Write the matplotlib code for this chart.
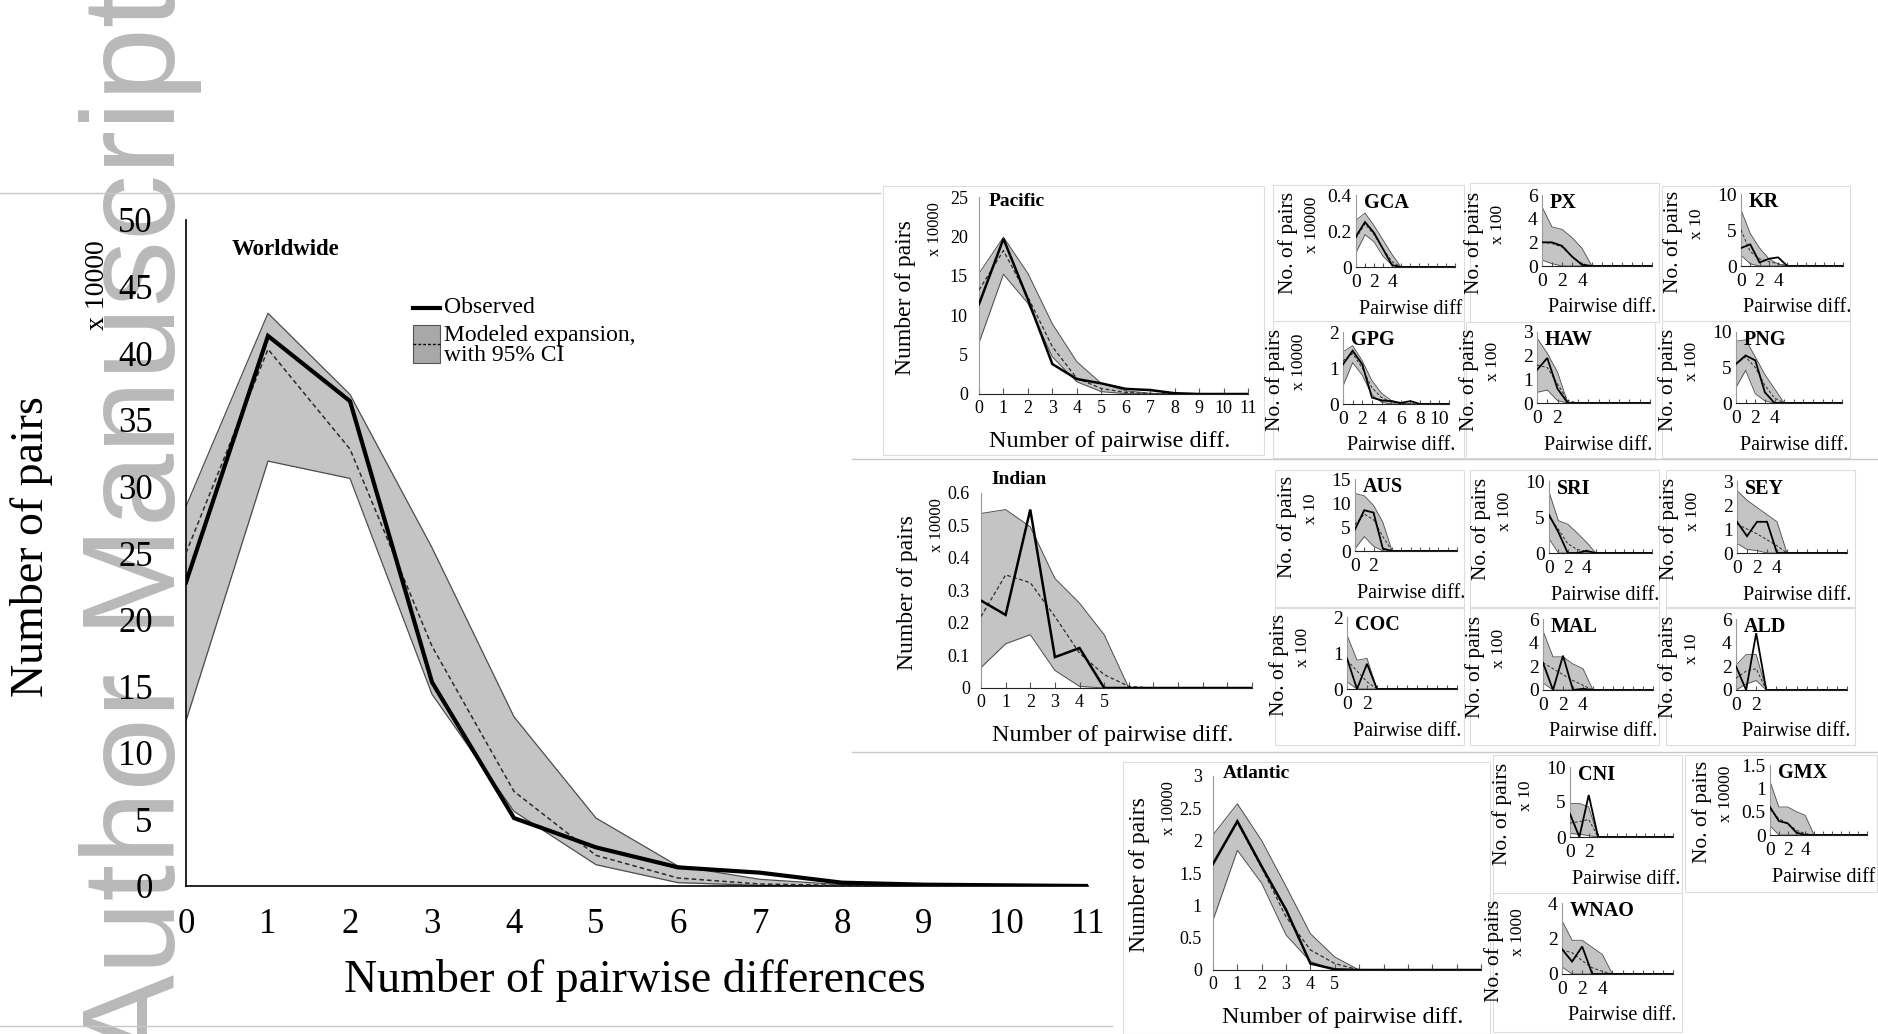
import matplotlib
matplotlib.use("Agg")
import matplotlib.pyplot as plt
from matplotlib.lines import Line2D
from matplotlib.patches import Rectangle

plt.rcParams['font.family'] = ['Liberation Serif', 'DejaVu Serif']

W, H = 1878, 1034
x = list(range(12))

# worldwide
ww_obs = [22.8, 41.3, 36.4, 15.3, 5.1, 2.9, 1.4, 1.0, 0.25, 0.1, 0.05, 0.0]
ww_mod = [25.0, 40.3, 32.8, 18.0, 7.1, 2.3, 0.6, 0.15, 0.05, 0.0, 0.0, 0.0]
ww_hi = [28.5, 43.0, 36.9, 25.4, 12.7, 5.1, 1.5, 0.5, 0.1, 0.0, 0.0, 0.0]
ww_lo = [12.4, 31.9, 30.6, 14.4, 5.6, 1.6, 0.25, 0.05, 0.0, 0.0, 0.0, 0.0]

# ocean basins
pac_obs = [11.4, 19.7, 12.0, 3.8, 1.9, 1.35, 0.65, 0.5, 0.1, 0.0, 0.0, 0.0]
pac_mod = [13.2, 18.2, 12.3, 6.0, 2.0, 0.7, 0.2, 0.05, 0.0, 0.0, 0.0, 0.0]
pac_hi = [15.3, 19.9, 15.3, 8.9, 4.1, 1.35, 0.4, 0.1, 0.0, 0.0, 0.0, 0.0]
pac_lo = [6.5, 15.2, 11.5, 4.7, 1.55, 0.3, 0.05, 0.0, 0.0, 0.0, 0.0, 0.0]

ind_obs = [0.269, 0.225, 0.549, 0.095, 0.123, 0.0, 0.0, 0.0, 0.0, 0.0, 0.0, 0.0]
ind_mod = [0.22, 0.348, 0.324, 0.22, 0.107, 0.041, 0.005, 0.0, 0.0, 0.0, 0.0, 0.0]
ind_hi = [0.537, 0.549, 0.496, 0.337, 0.261, 0.164, 0.0, 0.0, 0.0, 0.0, 0.0, 0.0]
ind_lo = [0.063, 0.136, 0.164, 0.054, 0.005, 0.0, 0.0, 0.0, 0.0, 0.0, 0.0, 0.0]

atl_obs = [1.64, 2.30, 1.60, 0.93, 0.10, 0.01, 0.0, 0.0, 0.0, 0.0, 0.0, 0.0]
atl_mod = [1.65, 2.28, 1.58, 0.82, 0.31, 0.10, 0.0, 0.0, 0.0, 0.0, 0.0, 0.0]
atl_hi = [2.09, 2.57, 2.00, 1.29, 0.56, 0.20, 0.0, 0.0, 0.0, 0.0, 0.0, 0.0]
atl_lo = [0.77, 1.85, 1.34, 0.54, 0.13, 0.0, 0.0, 0.0, 0.0, 0.0, 0.0, 0.0]

# populations
gca_obs = [0.17, 0.25, 0.19, 0.10, 0.01, 0.0, 0.0, 0.0, 0.0, 0.0, 0.0, 0.0]
gca_mod = [0.16, 0.24, 0.18, 0.10, 0.03, 0.0, 0.0, 0.0, 0.0, 0.0, 0.0, 0.0]
gca_hi = [0.26, 0.30, 0.23, 0.15, 0.07, 0.0, 0.0, 0.0, 0.0, 0.0, 0.0, 0.0]
gca_lo = [0.08, 0.18, 0.14, 0.06, 0.01, 0.0, 0.0, 0.0, 0.0, 0.0, 0.0, 0.0]

px_obs = [2.0, 2.0, 1.7, 0.8, 0.1, 0.0, 0.0, 0.0, 0.0, 0.0, 0.0, 0.0]
px_mod = [2.0, 1.9, 1.6, 0.8, 0.2, 0.0, 0.0, 0.0, 0.0, 0.0, 0.0, 0.0]
px_hi = [5.0, 3.3, 3.1, 2.4, 1.5, 0.0, 0.0, 0.0, 0.0, 0.0, 0.0, 0.0]
px_lo = [0.5, 0.2, 0.0, 0.0, 0.0, 0.0, 0.0, 0.0, 0.0, 0.0, 0.0, 0.0]

kr_obs = [2.5, 3.0, 0.5, 1.0, 1.2, 0.0, 0.0, 0.0, 0.0, 0.0, 0.0, 0.0]
kr_mod = [5.0, 2.0, 1.0, 0.6, 0.3, 0.0, 0.0, 0.0, 0.0, 0.0, 0.0, 0.0]
kr_hi = [7.8, 4.5, 2.5, 1.0, 0.3, 0.0, 0.0, 0.0, 0.0, 0.0, 0.0, 0.0]
kr_lo = [1.5, 0.3, 0.0, 0.0, 0.0, 0.0, 0.0, 0.0, 0.0, 0.0, 0.0, 0.0]

gpg_obs = [1.1, 1.48, 1.1, 0.18, 0.1, 0.08, 0.03, 0.08, 0.0, 0.0, 0.0, 0.0]
gpg_mod = [1.2, 1.4, 1.0, 0.45, 0.18, 0.05, 0.01, 0.0, 0.0, 0.0, 0.0, 0.0]
gpg_hi = [1.45, 1.62, 1.2, 0.65, 0.3, 0.1, 0.02, 0.0, 0.0, 0.0, 0.0, 0.0]
gpg_lo = [0.5, 1.15, 0.8, 0.25, 0.05, 0.0, 0.0, 0.0, 0.0, 0.0, 0.0, 0.0]

haw_obs = [1.4, 1.9, 0.6, 0.0, 0.0, 0.0, 0.0, 0.0, 0.0, 0.0, 0.0, 0.0]
haw_mod = [1.6, 1.5, 0.8, 0.1, 0.0, 0.0, 0.0, 0.0, 0.0, 0.0, 0.0, 0.0]
haw_hi = [2.75, 2.1, 1.3, 0.0, 0.0, 0.0, 0.0, 0.0, 0.0, 0.0, 0.0, 0.0]
haw_lo = [0.45, 0.55, 0.1, 0.0, 0.0, 0.0, 0.0, 0.0, 0.0, 0.0, 0.0, 0.0]

png_obs = [5.5, 6.7, 6.0, 1.5, 0.0, 0.0, 0.0, 0.0, 0.0, 0.0, 0.0, 0.0]
png_mod = [5.5, 6.5, 5.0, 2.5, 0.7, 0.0, 0.0, 0.0, 0.0, 0.0, 0.0, 0.0]
png_hi = [8.7, 8.9, 6.5, 4.0, 2.0, 0.0, 0.0, 0.0, 0.0, 0.0, 0.0, 0.0]
png_lo = [2.2, 4.6, 1.3, 0.3, 0.0, 0.0, 0.0, 0.0, 0.0, 0.0, 0.0, 0.0]

aus_obs = [4.5, 8.5, 8.0, 0.5, 0.0, 0.0, 0.0, 0.0, 0.0, 0.0, 0.0, 0.0]
aus_mod = [5.5, 7.7, 6.5, 3.0, 0.0, 0.0, 0.0, 0.0, 0.0, 0.0, 0.0, 0.0]
aus_hi = [12.0, 11.5, 9.5, 6.0, 0.0, 0.0, 0.0, 0.0, 0.0, 0.0, 0.0, 0.0]
aus_lo = [0.5, 3.0, 1.0, 0.0, 0.0, 0.0, 0.0, 0.0, 0.0, 0.0, 0.0, 0.0]

sri_obs = [5.3, 2.9, 0.0, 0.0, 0.3, 0.0, 0.0, 0.0, 0.0, 0.0, 0.0, 0.0]
sri_mod = [5.0, 3.3, 1.3, 0.5, 0.2, 0.0, 0.0, 0.0, 0.0, 0.0, 0.0, 0.0]
sri_hi = [8.5, 4.5, 4.0, 2.8, 1.5, 0.0, 0.0, 0.0, 0.0, 0.0, 0.0, 0.0]
sri_lo = [2.0, 0.0, 0.0, 0.0, 0.0, 0.0, 0.0, 0.0, 0.0, 0.0, 0.0, 0.0]

sey_obs = [1.3, 0.7, 1.3, 1.3, 0.0, 0.0, 0.0, 0.0, 0.0, 0.0, 0.0, 0.0]
sey_mod = [1.2, 1.0, 0.8, 0.55, 0.3, 0.0, 0.0, 0.0, 0.0, 0.0, 0.0, 0.0]
sey_hi = [2.6, 2.2, 1.9, 1.6, 1.3, 0.0, 0.0, 0.0, 0.0, 0.0, 0.0, 0.0]
sey_lo = [0.4, 0.15, 0.1, 0.0, 0.0, 0.0, 0.0, 0.0, 0.0, 0.0, 0.0, 0.0]

coc_obs = [0.85, 0.0, 0.7, 0.0, 0.0, 0.0, 0.0, 0.0, 0.0, 0.0, 0.0, 0.0]
coc_mod = [0.8, 0.5, 0.2, 0.0, 0.0, 0.0, 0.0, 0.0, 0.0, 0.0, 0.0, 0.0]
coc_hi = [1.5, 0.8, 0.85, 0.0, 0.0, 0.0, 0.0, 0.0, 0.0, 0.0, 0.0, 0.0]
coc_lo = [0.2, 0.0, 0.0, 0.0, 0.0, 0.0, 0.0, 0.0, 0.0, 0.0, 0.0, 0.0]

mal_obs = [2.3, 0.0, 2.9, 0.0, 0.1, 0.0, 0.0, 0.0, 0.0, 0.0, 0.0, 0.0]
mal_mod = [2.3, 1.8, 1.3, 0.8, 0.4, 0.0, 0.0, 0.0, 0.0, 0.0, 0.0, 0.0]
mal_hi = [5.0, 2.8, 2.8, 2.2, 1.8, 0.0, 0.0, 0.0, 0.0, 0.0, 0.0, 0.0]
mal_lo = [0.6, 0.0, 0.0, 0.0, 0.0, 0.0, 0.0, 0.0, 0.0, 0.0, 0.0, 0.0]

ald_obs = [2.0, 0.0, 4.8, 0.0, 0.0, 0.0, 0.0, 0.0, 0.0, 0.0, 0.0, 0.0]
ald_mod = [1.0, 1.6, 1.8, 0.0, 0.0, 0.0, 0.0, 0.0, 0.0, 0.0, 0.0, 0.0]
ald_hi = [2.1, 3.0, 3.0, 0.0, 0.0, 0.0, 0.0, 0.0, 0.0, 0.0, 0.0, 0.0]
ald_lo = [0.0, 0.5, 0.8, 0.0, 0.0, 0.0, 0.0, 0.0, 0.0, 0.0, 0.0, 0.0]

cni_obs = [3.3, 0.0, 6.0, 0.0, 0.0, 0.0, 0.0, 0.0, 0.0, 0.0, 0.0, 0.0]
cni_mod = [2.0, 2.2, 2.5, 0.0, 0.0, 0.0, 0.0, 0.0, 0.0, 0.0, 0.0, 0.0]
cni_hi = [4.8, 4.8, 4.3, 0.0, 0.0, 0.0, 0.0, 0.0, 0.0, 0.0, 0.0, 0.0]
cni_lo = [0.5, 0.4, 0.2, 0.0, 0.0, 0.0, 0.0, 0.0, 0.0, 0.0, 0.0, 0.0]

gmx_obs = [0.6, 0.3, 0.25, 0.05, 0.0, 0.0, 0.0, 0.0, 0.0, 0.0, 0.0, 0.0]
gmx_mod = [0.55, 0.35, 0.25, 0.1, 0.03, 0.0, 0.0, 0.0, 0.0, 0.0, 0.0, 0.0]
gmx_hi = [1.15, 0.6, 0.6, 0.5, 0.42, 0.0, 0.0, 0.0, 0.0, 0.0, 0.0, 0.0]
gmx_lo = [0.2, 0.0, 0.0, 0.0, 0.0, 0.0, 0.0, 0.0, 0.0, 0.0, 0.0, 0.0]

wnao_obs = [1.4, 0.7, 1.55, 0.0, 0.0, 0.0, 0.0, 0.0, 0.0, 0.0, 0.0, 0.0]
wnao_mod = [1.35, 1.2, 0.75, 0.35, 0.15, 0.0, 0.0, 0.0, 0.0, 0.0, 0.0, 0.0]
wnao_hi = [3.0, 1.9, 1.9, 1.5, 1.1, 0.0, 0.0, 0.0, 0.0, 0.0, 0.0, 0.0]
wnao_lo = [0.4, 0.0, 0.0, 0.0, 0.0, 0.0, 0.0, 0.0, 0.0, 0.0, 0.0, 0.0]


fig = plt.figure(figsize=(W / 100, H / 100), dpi=100)
fig.patch.set_facecolor('white')


def fx(px):
    return px / W


def fy(py):
    return 1 - py / H


def add_ax(left, right, top, bottom):
    ax = fig.add_axes([fx(left), fy(bottom), (right - left) / W, (bottom - top) / H])
    ax.patch.set_alpha(0)
    return ax


def ftext(px, py, s, **kw):
    fig.text(fx(px), fy(py), s, **kw)


def draw(ax, obs, mod, hi, lo, ymax, yticks, xlab, lw_obs=1.2, lw_edge=0.7, lw_dash=0.8):
    ax.fill_between(x, lo, hi, color='#c4c4c4', lw=0, zorder=1)
    ax.plot(x, hi, color='#4d4d4d', lw=lw_edge, zorder=2)
    ax.plot(x, lo, color='#4d4d4d', lw=lw_edge, zorder=2)
    ax.plot(x, mod, color='#2b2b2b', lw=lw_dash, ls=(0, (3, 2)), zorder=3)
    ax.plot(x, obs, color='black', lw=lw_obs, zorder=4, solid_joinstyle='miter')
    ax.set_xlim(0, 11)
    ax.set_ylim(0, ymax)
    ax.set_xticks(x)
    ax.set_xticklabels([str(i) if i in xlab else '' for i in x])
    ax.set_yticks(yticks)
    ax.set_yticklabels(['%g' % v for v in yticks])
    ax.spines['top'].set_visible(False)
    ax.spines['right'].set_visible(False)
    ax.spines['left'].set_color('#9a9a9a')
    ax.spines['bottom'].set_color('#222222')
    ax.tick_params(axis='y', length=0)


# light separators and frames
for x0, x1, y in [(0, 880, 193), (0, 1112, 1026), (852, 1878, 459), (852, 1878, 752)]:
    fig.add_artist(Line2D([fx(x0), fx(x1)], [fy(y), fy(y)], color='#c8c8c8', lw=1.0))

frames = [(883, 1264, 186, 455), (1273, 1464, 185, 321), (1470, 1659, 183, 322),
          (1662, 1850, 186, 321), (1273, 1464, 321, 458), (1466, 1655, 322, 458),
          (1662, 1850, 321, 458), (1275, 1464, 470, 607), (1470, 1659, 470, 607),
          (1666, 1855, 470, 607), (1275, 1464, 608, 745), (1470, 1659, 608, 745),
          (1666, 1855, 608, 745), (1123, 1490, 762, 1034), (1493, 1682, 755, 893),
          (1685, 1877, 755, 892), (1493, 1682, 893, 1032)]
for l, r, t, b in frames:
    fig.add_artist(Rectangle((fx(l), fy(b)), (r - l) / W, (b - t) / H, transform=fig.transFigure,
                             fill=False, edgecolor='#dddddd', lw=0.8))

# watermark
fig.text(fx(175), fy(1062), 'Author Manuscript', rotation=90, rotation_mode='anchor',
         ha='left', va='baseline', fontsize=95, family=['Liberation Sans', 'DejaVu Sans'],
         color='#b9b9b9', zorder=-1)

# worldwide panel
ax = add_ax(186, 1088, 220, 886)
draw(ax, ww_obs, ww_mod, ww_hi, ww_lo, 50, list(range(0, 51, 5)), x,
     lw_obs=3.0, lw_edge=0.9, lw_dash=1.1)
ax.spines['left'].set_color('black')
ax.spines['bottom'].set_color('black')
ax.spines['left'].set_linewidth(1.2)
ax.spines['bottom'].set_linewidth(1.2)
ax.tick_params(axis='both', length=0, labelsize=25)
ax.tick_params(axis='y', pad=24)
ax.tick_params(axis='x', pad=16)
ax.text(0.051, 0.955, 'Worldwide', transform=ax.transAxes, fontsize=16.5, fontweight='bold', va='center')
ax.plot([0.252, 0.282], [0.868, 0.868], transform=ax.transAxes, color='black', lw=3.0)
ax.add_patch(Rectangle((0.252, 0.785), 0.03, 0.057, transform=ax.transAxes,
                       facecolor='#a8a8a8', edgecolor='#555555', lw=0.8))
ax.plot([0.252, 0.282], [0.814, 0.814], transform=ax.transAxes, color='black', lw=1.0, ls=(0, (2, 1.5)))
ax.text(0.286, 0.868, 'Observed', transform=ax.transAxes, fontsize=17, va='center')
ax.text(0.286, 0.812, 'Modeled expansion,\nwith 95% CI', transform=ax.transAxes, fontsize=17,
        va='center', linespacing=0.95)
ftext(32, 547, 'Number of pairs', rotation=90, fontsize=33, ha='center', va='center')
ftext(97, 285, 'x 10000', rotation=90, fontsize=20, ha='center', va='center')
ftext(635, 980, 'Number of pairwise differences', fontsize=33, ha='center', va='center')

# basin panels
basins = [
    ('Pacific', (979, 1248, 197, 394), 5, pac_obs, pac_mod, pac_hi, pac_lo, 25, [0, 5, 10, 15, 20, 25], x),
    ('Indian', (981, 1252, 493, 688), -14, ind_obs, ind_mod, ind_hi, ind_lo, 0.6,
     [0, 0.1, 0.2, 0.3, 0.4, 0.5, 0.6], [0, 1, 2, 3, 4, 5]),
    ('Atlantic', (1213, 1481, 776, 970), -2, atl_obs, atl_mod, atl_hi, atl_lo, 3,
     [0, 0.5, 1, 1.5, 2, 2.5, 3], [0, 1, 2, 3, 4, 5]),
]
for name, (l, r, t, b), dy, o, m, hi, lo, ymax, yt, xl in basins:
    ax = add_ax(l, r, t, b)
    draw(ax, o, m, hi, lo, ymax, yt, xl, lw_obs=1.8, lw_edge=0.7, lw_dash=0.9)
    ax.tick_params(axis='x', direction='in', length=4, labelsize=13, pad=4, color='#555555')
    ax.tick_params(axis='y', labelsize=13, pad=8)
    ftext(l + 10, t + dy, name, fontsize=14, fontweight='bold', va='center')
    ftext(l - 73, (t + b) / 2 + 2, 'Number of pairs', rotation=90, fontsize=17, ha='center', va='center')
    ftext(l - 44, t + 32, 'x 10000', rotation=90, fontsize=12, ha='center', va='center')
    ftext((l + r) / 2 - 4, b + 48, 'Number of pairwise diff.', fontsize=17.5, ha='center', va='center')

# population panels
pops = [
    ('GCA', (1356, 1455, 195, 267), gca_obs, gca_mod, gca_hi, gca_lo, 0.4, [0, 0.2, 0.4], [0, 2, 4], 'x 10000', 'Pairwise diff'),
    ('PX', (1542, 1652, 195, 266), px_obs, px_mod, px_hi, px_lo, 6, [0, 2, 4, 6], [0, 2, 4], 'x 100', 'Pairwise diff.'),
    ('KR', (1741, 1843, 194, 266), kr_obs, kr_mod, kr_hi, kr_lo, 10, [0, 5, 10], [0, 2, 4], 'x 10', 'Pairwise diff.'),
    ('GPG', (1343, 1449, 332, 404), gpg_obs, gpg_mod, gpg_hi, gpg_lo, 2, [0, 1, 2], [0, 2, 4, 6, 8, 10], 'x 10000', 'Pairwise diff.'),
    ('HAW', (1537, 1650, 332, 403), haw_obs, haw_mod, haw_hi, haw_lo, 3, [0, 1, 2, 3], [0, 2], 'x 100', 'Pairwise diff.'),
    ('PNG', (1736, 1842, 332, 403), png_obs, png_mod, png_hi, png_lo, 10, [0, 5, 10], [0, 2, 4], 'x 100', 'Pairwise diff.'),
    ('AUS', (1355, 1457, 479, 551), aus_obs, aus_mod, aus_hi, aus_lo, 15, [0, 5, 10, 15], [0, 2], 'x 10', 'Pairwise diff.'),
    ('SRI', (1549, 1652, 481, 553), sri_obs, sri_mod, sri_hi, sri_lo, 10, [0, 5, 10], [0, 2, 4], 'x 100', 'Pairwise diff.'),
    ('SEY', (1737, 1847, 481, 553), sey_obs, sey_mod, sey_hi, sey_lo, 3, [0, 1, 2, 3], [0, 2, 4], 'x 100', 'Pairwise diff.'),
    ('COC', (1347, 1457, 617, 689), coc_obs, coc_mod, coc_hi, coc_lo, 2, [0, 1, 2], [0, 2], 'x 100', 'Pairwise diff.'),
    ('MAL', (1543, 1653, 619, 690), mal_obs, mal_mod, mal_hi, mal_lo, 6, [0, 2, 4, 6], [0, 2, 4], 'x 100', 'Pairwise diff.'),
    ('ALD', (1736, 1847, 619, 690), ald_obs, ald_mod, ald_hi, ald_lo, 6, [0, 2, 4, 6], [0, 2], 'x 10', 'Pairwise diff.'),
    ('CNI', (1570, 1673, 767, 837), cni_obs, cni_mod, cni_hi, cni_lo, 10, [0, 5, 10], [0, 2], 'x 10', 'Pairwise diff.'),
    ('GMX', (1770, 1867, 765, 835), gmx_obs, gmx_mod, gmx_hi, gmx_lo, 1.5, [0, 0.5, 1, 1.5], [0, 2, 4], 'x 10000', 'Pairwise diff'),
    ('WNAO', (1562, 1673, 903, 974), wnao_obs, wnao_mod, wnao_hi, wnao_lo, 4, [0, 2, 4], [0, 2, 4], 'x 1000', 'Pairwise diff.'),
]
for name, (l, r, t, b), o, m, hi, lo, ymax, yt, xl, mult, xlabel in pops:
    ax = add_ax(l, r, t, b)
    draw(ax, o, m, hi, lo, ymax, yt, xl, lw_obs=1.3, lw_edge=0.6, lw_dash=0.7)
    ax.tick_params(axis='x', direction='in', length=3, labelsize=14, pad=5, color='#555555')
    ax.tick_params(axis='y', labelsize=14, pad=3)
    ftext(l + 8, t + 8, name, fontsize=14.5, fontweight='bold', va='center')
    ftext(l - 68, (t + b) / 2 + 12, 'No. of pairs', rotation=90, fontsize=15.5, ha='center', va='center')
    ftext(l - 44, (t + b) / 2 - 6, mult, rotation=90, fontsize=12.5, ha='center', va='center')
    ftext((l + r) / 2 + 5, b + 42, xlabel, fontsize=14.5, ha='center', va='center')

fig.savefig('out.png', dpi=100, facecolor='white')
